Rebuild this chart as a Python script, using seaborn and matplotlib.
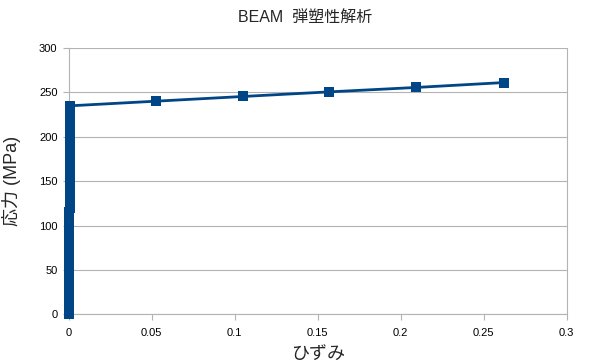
import matplotlib
matplotlib.use("Agg")
import matplotlib.pyplot as plt
import seaborn as sns
import pandas as pd

# Data: strain (ひずみ) and stress (応力, MPa)
elastic_strain = [0.0, 0.000024, 0.000049, 0.000073, 0.000098, 0.00012, 0.00015,
                  0.00017, 0.0002, 0.00022, 0.00024, 0.00027, 0.00029, 0.00032,
                  0.00034, 0.00037, 0.00039, 0.00041, 0.00044, 0.00046, 0.00049,
                  0.00051, 0.00054, 0.00056, 0.00059, 0.00061, 0.00063, 0.00066,
                  0.00068, 0.00071, 0.00073, 0.00076, 0.00078, 0.0008, 0.00083,
                  0.00085, 0.00088, 0.0009, 0.00093, 0.00095, 0.00098, 0.001,
                  0.00102, 0.00105, 0.00107, 0.0011, 0.00112, 0.00115]
elastic_stress = [0, 5, 10, 15, 20, 25, 30, 35, 40, 45, 50, 55, 60, 65, 70, 75,
                  80, 85, 90, 95, 100, 105, 110, 115, 120, 125, 130, 135, 140,
                  145, 150, 155, 160, 165, 170, 175, 180, 185, 190, 195, 200,
                  205, 210, 215, 220, 225, 230, 235]
plastic_strain = [0.0526, 0.105, 0.157, 0.2095, 0.262]
plastic_stress = [240.2, 245.5, 250.7, 255.7, 261.2]

strain = elastic_strain + plastic_strain
stress = elastic_stress + plastic_stress
df = pd.DataFrame({"strain": strain, "stress": stress,
                   "order": list(range(len(strain)))})

title = "BEAM  弾塑性解析"
xlabel = "ひずみ"
ylabel = "応力 (MPa)"
xticks = [0, 0.05, 0.1, 0.15, 0.2, 0.25, 0.3]
xticklabels = ["0", "0.05", "0.1", "0.15", "0.2", "0.25", "0.3"]
yticks = [0, 50, 100, 150, 200, 250, 300]

sns.set_style("white")
plt.rcParams["font.family"] = ["Liberation Sans", "Noto Sans CJK JP", "DejaVu Sans"]

fig = plt.figure(figsize=(5.91, 3.62), dpi=100)
ax = fig.add_axes([0.116, 0.132, 0.843, 0.735])

color = "#004586"
sns.lineplot(data=df, x="strain", y="stress", sort=False, estimator=None,
             units="order", ax=ax, color=color, linewidth=0, marker="s",
             markersize=7, markeredgewidth=0, markerfacecolor=color,
             clip_on=False, zorder=4)
sns.lineplot(data=df, x="strain", y="stress", sort=False, estimator=None,
             ax=ax, color=color, linewidth=2.0, clip_on=False, zorder=3)
for ln in ax.get_lines():
    ln.set_snap(False)

ax.set_xlim(0, 0.3)
ax.set_ylim(0, 300)
ax.set_xticks(xticks)
ax.set_xticklabels(xticklabels)
ax.set_yticks(yticks)

grid_c = "#b3b3b3"
ax.yaxis.grid(True, color=grid_c, linewidth=0.8)
ax.xaxis.grid(False)
ax.set_axisbelow(True)
for s in ["left", "bottom", "right"]:
    ax.spines[s].set_visible(True)
    ax.spines[s].set_color(grid_c)
    ax.spines[s].set_linewidth(0.8)
ax.spines["top"].set_visible(False)

ax.tick_params(axis="both", which="both", length=4, width=0.8, color=grid_c,
               labelsize=8, labelcolor="#000000", direction="out", pad=4)
ax.tick_params(axis="x", bottom=True, pad=6)
ax.tick_params(axis="y", left=True)

cjk = ["Noto Sans CJK JP", "Liberation Sans"]
ax.set_xlabel(xlabel, fontsize=13, family=cjk, labelpad=5)
ax.set_ylabel(ylabel, fontsize=13, family=["Liberation Sans", "Noto Sans CJK JP"], labelpad=13)
fig.text(0.516, 0.953, title, fontsize=11.5, ha="center", va="center",
         family=["Liberation Sans", "Noto Sans CJK JP"])

fig.savefig("out.png", dpi=100)
